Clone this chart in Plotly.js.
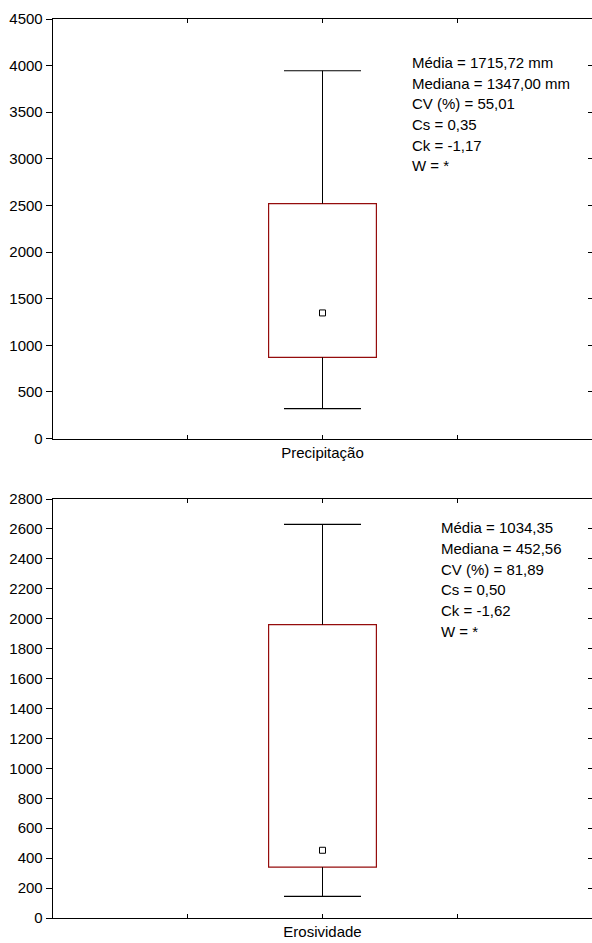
<!DOCTYPE html>
<html>
<head>
<meta charset="utf-8">
<script src="https://cdn.plot.ly/plotly-3.0.1.min.js"></script>
<style>html,body{margin:0;padding:0;background:#fff;}#chart{width:592px;height:943px;}</style>
</head>
<body>
<div id="chart"></div>
<script>
// ---- data ----
var categories = ['Precipitação', 'Erosividade'];
var minVals    = [320, 145];
var q1Vals     = [870, 340];
var medianVals = [1347.00, 452.56];
var q3Vals     = [2520, 1960];
var maxVals    = [3945, 2630];
var statsPrecip = ['Média = 1715,72 mm', 'Mediana = 1347,00 mm', 'CV (%) = 55,01', 'Cs = 0,35', 'Ck = -1,17', 'W = *'];
var statsEros   = ['Média = 1034,35', 'Mediana = 452,56', 'CV (%) = 81,89', 'Cs = 0,50', 'Ck = -1,62', 'W = *'];
var yMax = [4500, 2800];
var yStep = [500, 200];

// ---- style ----
var FONT = 'Arial, "Liberation Sans", sans-serif';
var BOXRED = '#950c0c';
var W = 592, H = 943, mL = 53, mR = 0, mT = 19, mB = 25;
var plotH = H - mT - mB;
function py(p) { return (H - mB - p) / plotH; }
function px(p) { return (p - mL) / (W - mL - mR); }

var domains = [[py(438.5), 1], [0, py(499)]];
var statsAll = [statsPrecip, statsEros];
var statsX = [410, 439];
var statsY0 = [62.3, 527.7];
var lineGap = 20.7;

var traces = [];
var layout = {
  width: W, height: H,
  margin: {l: mL, r: mR, t: mT, b: mB},
  paper_bgcolor: '#fff', plot_bgcolor: '#fff',
  showlegend: false,
  barmode: 'overlay',
  font: {family: FONT, size: 15, color: '#000'},
  annotations: []
};

for (var i = 0; i < categories.length; i++) {
  var xa = i === 0 ? 'x' : 'x2';
  var ya = i === 0 ? 'y' : 'y2';
  var cat = categories[i];
  var catArr = [' ', cat, '  '];
  // box
  traces.push({
    type: 'bar', x: [cat], y: [q3Vals[i] - q1Vals[i]], base: [q1Vals[i]],
    width: 0.8, xaxis: xa, yaxis: ya,
    marker: {color: '#fff', line: {color: BOXRED, width: 1.2}},
    hoverinfo: 'skip'
  });
  // whiskers
  traces.push({
    type: 'scatter', mode: 'lines', xaxis: xa, yaxis: ya,
    x: [cat, cat, null, cat, cat],
    y: [q3Vals[i], maxVals[i], null, minVals[i], q1Vals[i]],
    line: {color: '#000', width: 1}, hoverinfo: 'skip'
  });
  // caps
  traces.push({
    type: 'scatter', mode: 'markers', xaxis: xa, yaxis: ya,
    x: [cat, cat], y: [minVals[i], maxVals[i]],
    marker: {symbol: 'line-ew-open', size: 55, color: '#000', line: {color: '#000', width: 1.2}},
    hoverinfo: 'skip'
  });
  // median
  traces.push({
    type: 'scatter', mode: 'markers', xaxis: xa, yaxis: ya,
    x: [cat], y: [medianVals[i]],
    marker: {symbol: 'square-open', size: 6, color: '#000', line: {color: '#000', width: 1}},
    hoverinfo: 'skip'
  });

  var sfx = i === 0 ? '' : '2';
  layout['xaxis' + sfx] = {
    type: 'category', categoryorder: 'array', categoryarray: catArr,
    range: [-1, 3], anchor: ya, domain: [0, 1],
    showline: true, linecolor: '#000', linewidth: 1.3, mirror: 'ticks',
    ticks: 'inside', ticklen: 4, tickcolor: '#000', tickwidth: 1,
    showgrid: false, zeroline: false,
    tickfont: {family: FONT, size: 15, color: '#000'}
  };
  layout['yaxis' + sfx] = {
    range: [0, yMax[i]], dtick: yStep[i], tick0: 0, anchor: xa, domain: domains[i],
    showline: true, linecolor: '#000', linewidth: 1.3, mirror: false,
    ticks: 'outside', ticklen: 6, tickcolor: '#000', tickwidth: 1,
    showgrid: false, zeroline: false,
    tickfont: {family: FONT, size: 15, color: '#000'}
  };
  // right side inside ticks
  var rName = 'yaxis' + (i === 0 ? '3' : '4');
  layout[rName] = {
    range: [0, yMax[i]], dtick: yStep[i], tick0: 0, overlaying: ya, side: 'right', anchor: xa,
    showline: false, showticklabels: false, ticks: 'inside', ticklen: 4,
    tickcolor: '#000', tickwidth: 1, showgrid: false, zeroline: false
  };
  traces.push({type: 'scatter', mode: 'markers', x: [cat], y: [medianVals[i]], xaxis: xa,
    yaxis: i === 0 ? 'y3' : 'y4', marker: {opacity: 0}, hoverinfo: 'skip'});

  // stats text
  for (var k = 0; k < statsAll[i].length; k++) {
    layout.annotations.push({
      text: statsAll[i][k], xref: 'paper', yref: 'paper',
      x: px(statsX[i]), y: py(statsY0[i] + k * lineGap),
      xanchor: 'left', yanchor: 'middle', showarrow: false, align: 'left',
      font: {family: FONT, size: 15, color: '#000'}
    });
  }
}

Plotly.newPlot('chart', traces, layout, {staticPlot: true, displayModeBar: false});
</script>
</body>
</html>
